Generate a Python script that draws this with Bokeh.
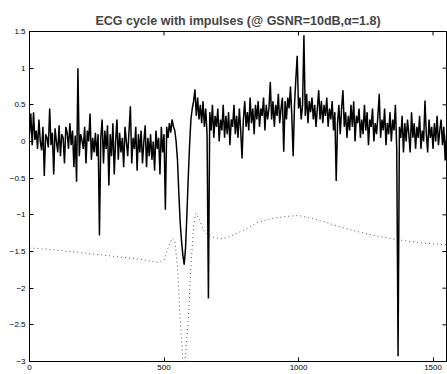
import numpy as np
from bokeh.plotting import figure
from bokeh.models import Range1d, FixedTicker
from bokeh.embed import file_html
from bokeh.resources import INLINE

# Noisy ECG cycle with impulses, sampled every 5 samples (x = 0..1550)
noisy = [
    0.1, 0.38, -0.05, 0.4, 0.02, 0.15, -0.1, 0.3, 0.0, -0.12,
    0.2, -0.47, 0.1, 0.05, -0.08, 0.45, -0.05, 0.12, -0.45, 0.18,
    0.0, -0.15, 0.22, -0.2, 0.1, 0.05, -0.3, 0.2, 0.12, -0.1,
    0.25, -0.05, 0.15, -0.35, 0.08, -0.55, 1.0, -0.2, 0.1, 0.02,
    -0.1, 0.2, -0.3, 0.15, 0.0, 0.38, -0.25, 0.05, -0.15, 0.12,
    -0.2, 0.1, -1.28, 0.05, 0.3, -0.3, 0.15, -0.1, 0.22, -0.6,
    0.1, -0.2, 0.25, -0.45, 0.0, 0.3, -0.25, 0.12, -0.15, 0.05,
    -0.35, 0.2, 0.0, -0.2, 0.15, 0.48, -0.3, 0.05, -0.1, 0.2,
    -0.4, 0.1, -0.15, 0.15, -0.3, 0.0, 0.22, -0.35, 0.05, -0.2,
    0.1, -0.25, 0.0, -0.4, 0.15, -0.1, 0.05, -0.45, 0.2, -0.15,
    0.1, -0.93, 0.2, 0.05, 0.25, 0.12, 0.3, 0.2, 0.15, 0.0,
    -0.25, -0.7, -1.1, -1.35, -1.55, -1.68, -1.45, -1.0, -0.5, -0.05,
    0.3, 0.45, 0.55, 0.71, 0.35, 0.6, 0.3, 0.5, 0.25, 0.55,
    0.2, 0.45, 0.1, -2.14, 0.4, 0.15, 0.5, 0.05, 0.35, 0.2,
    0.45, 0.0, 0.3, 0.15, 0.5, 0.05, 0.35, 0.1, 0.4, -0.05,
    0.3, 0.2, 0.5, 0.1, 0.35, 0.05, 0.45, 0.15, -0.23, 0.3,
    0.55, 0.2, 0.4, 0.15, 0.6, 0.25, 0.45, 0.1, 0.5, 0.3,
    0.55, 0.2, 0.45, 0.35, 0.6, 0.15, 0.5, 0.3, 0.45, 0.81,
    0.3, 0.55, 0.2, 0.5, 0.35, 0.65, 0.25, 0.45, 0.6, -0.14,
    0.55, 0.3, 0.6, 0.45, 0.75, 0.35, -0.2, 0.5, 0.85, 1.17,
    0.45, 0.6, 0.3, 0.5, 1.45, 0.35, 0.65, 0.25, 0.55, 0.4,
    0.6, 0.3, 0.5, 0.2, 0.45, 0.7, 0.3, 0.55, 0.25, 0.5,
    0.35, 0.6, 0.2, 0.45, 0.3, 0.55, 0.15, 0.4, -0.54, 0.25,
    0.5, 0.1, 0.45, 0.7, 0.2, 0.4, 0.05, 0.35, 0.15, 0.5,
    0.2, 0.55, 0.0, 0.35, 0.25, 0.45, 0.05, 0.3, 0.1, 0.5,
    0.15, 0.4, -0.05, 0.3, 0.2, 0.45, 0.0, 0.25, 0.1, 0.35,
    0.65, 0.05, 0.3, 0.15, 0.45, -0.05, 0.25, 0.1, 0.4, 0.0,
    0.3, 0.15, 0.5, -0.1, -2.93, 0.2, 0.05, 0.35, -0.15, 0.25,
    0.0, 0.3, 0.1, -0.15, 0.4, 0.05, 0.25, -0.1, 0.2, 0.05,
    0.35, -0.1, 0.15, 0.0, 0.56, 0.1, -0.15, 0.3, 0.05, 0.2,
    -0.1, 0.25, 0.0, 0.35, -0.05, 0.15, 0.3, -0.05, 0.2, -0.26, 0.1,
]
noisy_x = np.arange(len(noisy)) * 5

# Clean ECG cycle (shown shifted, dotted)
clean_x = [0, 100, 200, 300, 400, 450, 480, 500, 515, 530, 540, 550, 560, 570,
           575, 580, 590, 600, 610, 618, 630, 645, 665, 690, 720, 760, 800, 850,
           900, 960, 1000, 1050, 1100, 1160, 1220, 1280, 1370, 1450, 1550]
clean_y = [-1.45, -1.48, -1.52, -1.56, -1.6, -1.63, -1.65, -1.62, -1.45, -1.32,
           -1.35, -1.7, -2.4, -2.95, -3.0, -2.9, -2.45, -1.7, -1.15, -0.98,
           -1.05, -1.2, -1.29, -1.31, -1.33, -1.27, -1.2, -1.1, -1.05, -1.02,
           -1.01, -1.05, -1.1, -1.17, -1.23, -1.28, -1.34, -1.38, -1.41]

x_ticks = [0, 500, 1000, 1500]
x_tick_labels = ["0", "500", "1000", "1500"]
y_ticks = [-3, -2.5, -2, -1.5, -1, -0.5, 0, 0.5, 1, 1.5]
y_tick_labels = ["\u22123", "\u22122.5", "\u22122", "\u22121.5", "\u22121", "\u22120.5",
                 "0", "0.5", "1", "1.5"]

X_START, X_END = 0, 1550
Y_START, Y_END = -3, 1.5
FONT = "Liberation Sans"

p = figure(width=447, height=374, output_backend="svg", toolbar_location=None,
           x_range=Range1d(X_START, X_END), y_range=Range1d(Y_START, Y_END),
           title="ECG cycle with impulses (@ GSNR=10dB,\u03b1=1.8)",
           min_border_left=29, min_border_right=1, min_border_top=31, min_border_bottom=13)

p.title.text_font = FONT
p.title.text_font_size = "12.5px"
p.title.text_font_style = "bold"
p.title.align = "center"
p.title.standoff = 8

p.grid.visible = False
p.outline_line_color = "black"
p.outline_line_width = 1
p.background_fill_color = "white"
p.border_fill_color = "white"

p.line(clean_x, clean_y, line_color="#555555", line_width=1, line_dash="1 3")
p.line(noisy_x, noisy, line_color="black", line_width=1.5)

def style_axis(ax, ticks, labels):
    ax.ticker = FixedTicker(ticks=ticks)
    ax.major_label_overrides = {t: l for t, l in zip(ticks, labels)}
    ax.minor_tick_line_color = None
    ax.major_tick_in = 4
    ax.major_tick_out = 0
    ax.axis_line_color = "black"
    ax.major_tick_line_color = "black"
    ax.major_label_text_font = FONT
    ax.major_label_text_font_size = "8px"
    ax.major_label_text_color = "black"

style_axis(p.xaxis[0], x_ticks, x_tick_labels)
p.xaxis[0].major_label_standoff = 3
style_axis(p.yaxis[0], y_ticks, y_tick_labels)
p.yaxis[0].major_label_standoff = 4

# inward tick marks on the top and right edges of the box (clipped to frame)
p.scatter(x_ticks, [Y_END] * len(x_ticks), marker="dash", angle=np.pi / 2,
          size=8, line_color="black", line_width=1)
p.scatter([X_END] * len(y_ticks), y_ticks, marker="dash",
          size=8, line_color="black", line_width=1)

open("out.html", "w").write(file_html(p, INLINE))
